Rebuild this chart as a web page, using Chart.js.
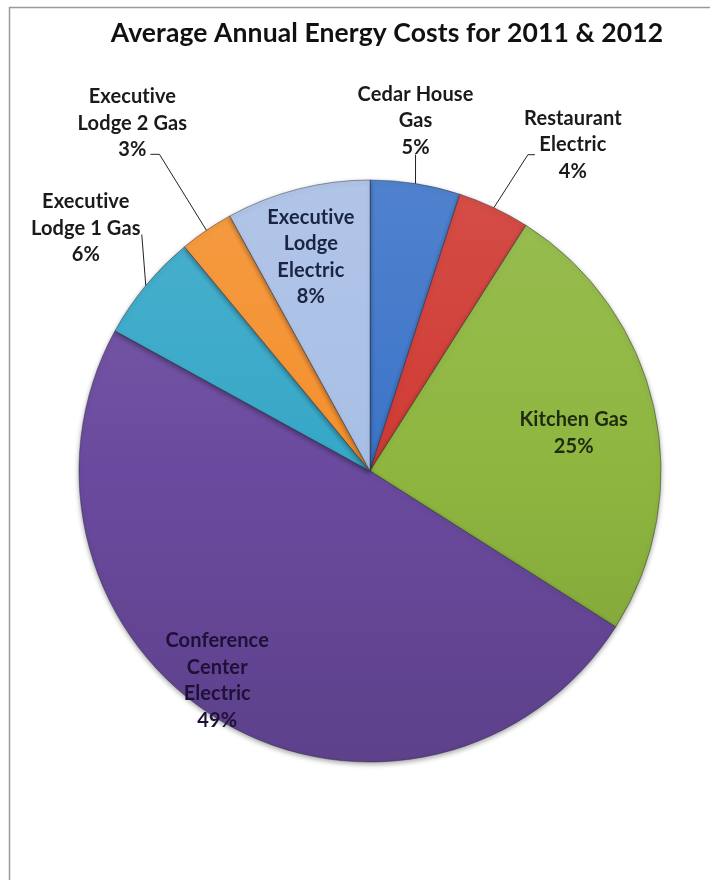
<!DOCTYPE html>
<html lang="en">
<head>
<meta charset="UTF-8">
<title>Average Annual Energy Costs for 2011 &amp; 2012</title>
<script src="https://cdn.jsdelivr.net/npm/chart.js"></script>
<style>
  html, body { margin: 0; padding: 0; background: #fff; overflow: hidden; }
  #wrap { width: 710px; height: 880px; }
</style>
</head>
<body>
<div id="wrap"><canvas id="energyChart" width="710" height="880"></canvas></div>
<script>
// slices, clockwise from 12 o'clock
const categories = ['Cedar House Gas', 'Restaurant Electric', 'Kitchen Gas', 'Conference Center Electric',
                    'Executive Lodge 1 Gas', 'Executive Lodge 2 Gas', 'Executive Lodge Electric'];
const shares = [5, 4, 25, 49, 6, 3, 8];
const labelLines = [['Cedar House', 'Gas'], ['Restaurant', 'Electric'], ['Kitchen Gas'],
                    ['Conference', 'Center', 'Electric'], ['Executive', 'Lodge 1 Gas'],
                    ['Executive', 'Lodge 2 Gas'], ['Executive', 'Lodge', 'Electric']];
const sliceColors = ['#3c74c8', '#cf3a33', '#8eb63f', '#6a4a9e', '#36a7c7', '#f4902d', '#a8bfe5'];

const chartTitle = 'Average Annual Energy Costs for 2011 & 2012';
const FONT = '"Lato", "Open Sans", sans-serif';

// label layout: outside labels hang off a leader line that starts on the arc at the slice's mid angle,
// inside labels sit at an offset from the pie centre (in radius units)
const placement = [
  { out: true, dx: 0, dy: -63, leader: [[0, -29]] },
  { out: true, dx: 79, dy: -63, leader: [[34, -53], [41, -53]] },
  { out: false, ux: 0.70, uy: -0.13, color: '#1f2a10' },
  { out: false, ux: -0.525, uy: 0.72, color: '#1e1036' },
  { out: true, dx: -60, dy: -57, leader: [[-4, -51]] },
  { out: true, dx: -74, dy: -107, leader: [[-47, -76], [-56, -76]] },
  { out: false, ux: -0.203, uy: -0.735, color: '#1b2443' }
];

function shade(hex, amt) {
  const n = parseInt(hex.slice(1), 16);
  let r = n >> 16, g = (n >> 8) & 255, b = n & 255;
  const t = amt < 0 ? 0 : 255, p = Math.abs(amt);
  r = Math.round(r + (t - r) * p); g = Math.round(g + (t - g) * p); b = Math.round(b + (t - b) * p);
  return 'rgb(' + r + ',' + g + ',' + b + ')';
}

const PIE_R = 291;

const framePlugin = {
  id: 'frame',
  beforeDraw(chart) {
    const c = chart.ctx;
    c.save();
    c.fillStyle = '#fff';
    c.fillRect(0, 0, chart.width, chart.height);
    c.strokeStyle = '#9a9a9a';
    c.lineWidth = 1.5;
    c.beginPath();
    c.moveTo(9.5, chart.height + 5);
    c.lineTo(9.5, 7.5);
    c.lineTo(chart.width + 5, 7.5);
    c.stroke();
    c.font = 'bold 26.5px ' + FONT;
    c.letterSpacing = '0.1px';
    c.fillStyle = '#111';
    c.textAlign = 'center';
    c.textBaseline = 'middle';
    c.fillText(chartTitle, 387, 33);
    c.restore();
  },
  beforeDatasetsDraw(chart) {
    const c = chart.ctx;
    c.save();
    c.shadowColor = 'rgba(0,0,0,0.35)';
    c.shadowBlur = 5;
    c.shadowOffsetY = 2;
  },
  afterDatasetsDraw(chart) {
    chart.ctx.restore();
  }
};

const labelPlugin = {
  id: 'sliceLabels',
  afterDraw(chart) {
    const c = chart.ctx;
    const arcs = chart.getDatasetMeta(0).data;
    const total = shares.reduce((a, b) => a + b, 0);
    c.save();
    c.font = 'bold 20px ' + FONT;
    c.letterSpacing = '0.1px';
    c.textAlign = 'center';
    c.textBaseline = 'middle';
    const lh = 26.5;
    arcs.forEach((arc, i) => {
      const p = placement[i];
      const lines = labelLines[i].concat([Math.round(shares[i] / total * 100) + '%']);
      let cx, cy;
      if (p.out) {
        const mid = (arc.startAngle + arc.endAngle) / 2;
        const ax = arc.x + Math.cos(mid) * arc.outerRadius;
        const ay = arc.y + Math.sin(mid) * arc.outerRadius;
        c.strokeStyle = '#222';
        c.lineWidth = 1;
        c.beginPath();
        c.moveTo(ax, ay);
        p.leader.forEach(pt => c.lineTo(ax + pt[0], ay + pt[1]));
        c.stroke();
        cx = ax + p.dx; cy = ay + p.dy;
        c.fillStyle = '#1a1a1a';
      } else {
        cx = arc.x + p.ux * arc.outerRadius;
        cy = arc.y + p.uy * arc.outerRadius;
        c.fillStyle = p.color;
      }
      const top = cy - (lines.length - 1) * lh / 2;
      lines.forEach((t, k) => c.fillText(t, cx, top + k * lh));
    });
    c.restore();
  }
};

new Chart(document.getElementById('energyChart'), {
  type: 'pie',
  data: {
    labels: categories,
    datasets: [{
      data: shares,
      radius: PIE_R,
      backgroundColor: ctx => {
        const base = sliceColors[ctx.dataIndex];
        const area = ctx.chart.chartArea;
        if (!area) return base;
        const cy = (area.top + area.bottom) / 2;
        const g = ctx.chart.ctx.createLinearGradient(0, cy - PIE_R, 0, cy + PIE_R);
        g.addColorStop(0, shade(base, 0.1));
        g.addColorStop(0.5, base);
        g.addColorStop(1, shade(base, -0.12));
        return g;
      },
      borderColor: 'rgba(40,40,60,0.45)',
      borderWidth: 1
    }]
  },
  options: {
    responsive: false,
    animation: false,
    layout: { padding: { left: 79, right: 49, top: 180, bottom: 118 } },
    plugins: {
      legend: { display: false },
      title: { display: false },
      tooltip: { enabled: false }
    }
  },
  plugins: [framePlugin, labelPlugin]
});
</script>
</body>
</html>
